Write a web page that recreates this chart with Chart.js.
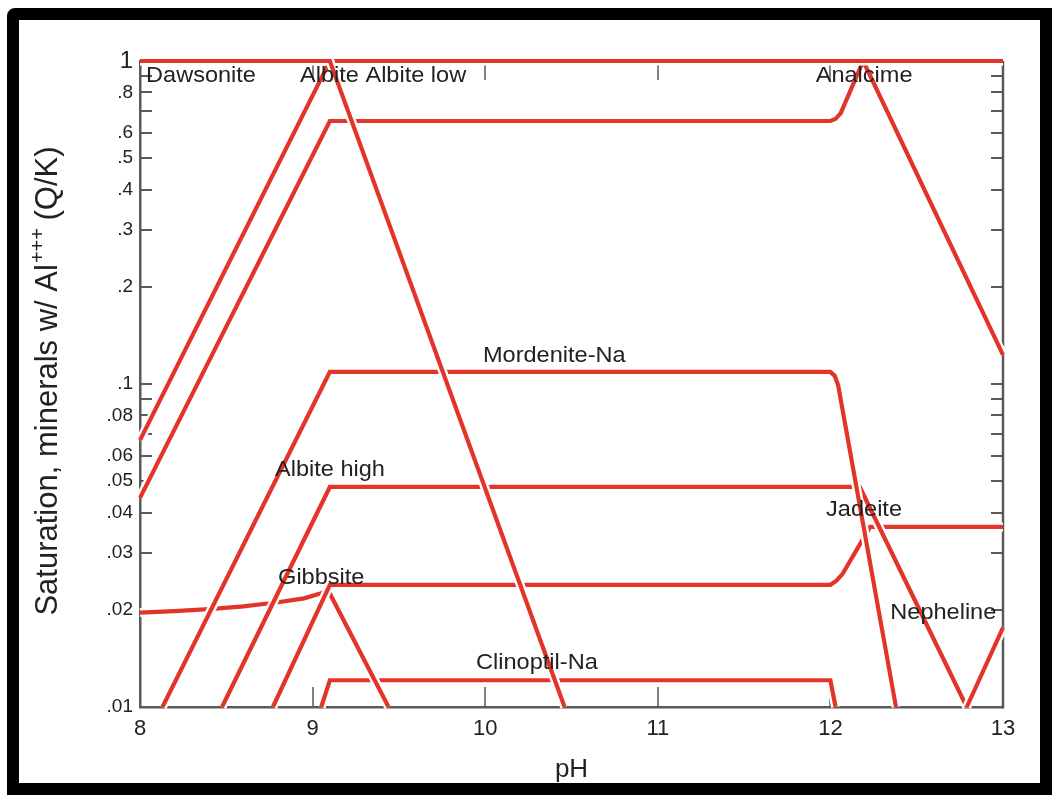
<!DOCTYPE html>
<html>
<head>
<meta charset="utf-8">
<script src="https://cdn.jsdelivr.net/npm/chart.js@4.4.1/dist/chart.umd.min.js"></script>
<style>
  html, body { margin: 0; padding: 0; background: #fff; }
  #wrap { position: relative; width: 1052px; height: 795px; overflow: hidden; }
  #c { position: absolute; left: 0; top: 0; }
  #frame {
    position: absolute; left: 7px; top: 8px; width: 1045px; height: 787px;
    box-sizing: border-box; border: 12px solid #000; border-radius: 8px 0 0 0;
    pointer-events: none;
  }
</style>
</head>
<body>
<div id="wrap">
  <canvas id="c" width="1052" height="795"></canvas>
  <div id="frame"></div>
</div>
<script>
// Axis ticks
const xTicks = [8, 9, 10, 11, 12, 13];
const yTicks = [0.01, 0.02, 0.03, 0.04, 0.05, 0.06, 0.07, 0.08, 0.09,
                0.1, 0.2, 0.3, 0.4, 0.5, 0.6, 0.7, 0.8, 0.9, 1];
const yTickLabels = ['.01', '.02', '.03', '.04', '.05', '.06', '', '.08', '',
                     '.1', '.2', '.3', '.4', '.5', '.6', '', '.8', '', '1'];

// Saturation curves (pH, Q/K)
const clinoptilPH = [9.05, 9.1, 12.0, 12.03];
const clinoptilQK = [0.01, 0.0121, 0.0121, 0.01];

const gibbsitePH = [8, 8.2, 8.4, 8.6, 8.8, 8.95, 9.04, 9.09, 9.44];
const gibbsiteQK = [0.0196, 0.0198, 0.0201, 0.0205, 0.0211, 0.0217, 0.0224, 0.0230, 0.01];

const analcimePH = [8, 9.1, 12.0, 12.03, 12.06, 12.19, 13];
const analcimeQK = [0.0444, 0.652, 0.652, 0.662, 0.69, 1, 0.123];

const albiteLowPH = [8, 9.1, 13];
const albiteLowQK = [0.067, 1, 1];

const jadeitePH = [8.77, 9.1, 12.0, 12.035, 12.07, 12.23, 13];
const jadeiteQK = [0.01, 0.0239, 0.0239, 0.0246, 0.0258, 0.0361, 0.0361];

const albiteHighPH = [8.475, 9.1, 12.17, 12.79];
const albiteHighQK = [0.01, 0.048, 0.048, 0.01];

const mordenitePH = [8.13, 9.1, 12.0, 12.025, 12.045, 12.38];
const mordeniteQK = [0.01, 0.109, 0.109, 0.106, 0.099, 0.01];

const nephelinePH = [12.79, 13];
const nephelineQK = [0.01, 0.0176];

const dawsonitePH = [8, 9.1, 10.46];
const dawsoniteQK = [1, 1, 0.01];

// Curve labels
const labelNames = ['Dawsonite', 'Albite Albite low', 'Analcime', 'Mordenite-Na',
                    'Albite high', 'Gibbsite', 'Jadeite', 'Nepheline', 'Clinoptil-Na'];
const labelPH = [8.035, 8.927, 11.915, 9.987, 8.782, 8.80, 11.975, 12.347, 9.947];
const labelQK = [0.899, 0.899, 0.899, 0.1219, 0.0543, 0.0251, 0.0408, 0.0196, 0.01372];

const RED = '#e3342a';
const AXIS = '#5a5a5a';
const INK = '#222';
const FONT = "'Liberation Sans', Arial, Helvetica, sans-serif";

// drawn bottom-most first
const curves = [
  [clinoptilPH, clinoptilQK],
  [gibbsitePH, gibbsiteQK],
  [analcimePH, analcimeQK],
  [albiteLowPH, albiteLowQK],
  [jadeitePH, jadeiteQK],
  [albiteHighPH, albiteHighQK],
  [mordenitePH, mordeniteQK],
  [nephelinePH, nephelineQK],
  [dawsonitePH, dawsoniteQK]
];

const datasets = [];
curves.forEach(([xs, ys], i) => {
  const pts = xs.map((x, k) => ({ x: x, y: ys[k] }));
  const base = 2 * (curves.length - i);
  // white halo underneath each red line
  datasets.push({ data: pts, borderColor: '#ffffff', borderWidth: 9, pointRadius: 0,
                  tension: 0, fill: false, order: base + 1, borderCapStyle: 'butt', clip: 5 });
  datasets.push({ data: pts, borderColor: RED, borderWidth: 4.2, pointRadius: 0,
                  tension: 0, fill: false, order: base, borderCapStyle: 'butt', clip: 5 });
});

const marks = {
  id: 'marks',
  beforeDatasetsDraw(chart) {
    const ctx = chart.ctx;
    const a = chart.chartArea;
    const xs = chart.scales.x, ys = chart.scales.y;
    ctx.save();
    ctx.strokeStyle = AXIS;
    ctx.lineWidth = 2.5;
    // right axis line
    ctx.beginPath();
    ctx.moveTo(a.right, a.top);
    ctx.lineTo(a.right, a.bottom + 1.25);
    ctx.stroke();
    ctx.lineWidth = 2;
    // inward ticks on left and right
    yTicks.forEach(v => {
      const py = Math.round(ys.getPixelForValue(v));
      ctx.beginPath();
      ctx.moveTo(a.left, py); ctx.lineTo(a.left + 12, py);
      ctx.moveTo(a.right, py); ctx.lineTo(a.right - 12, py);
      ctx.stroke();
    });
    // inward ticks on bottom and top
    ctx.lineWidth = 1.5;
    xTicks.slice(1, -1).forEach(v => {
      const px = Math.round(xs.getPixelForValue(v));
      ctx.beginPath();
      ctx.moveTo(px, a.bottom); ctx.lineTo(px, a.bottom - 20);
      ctx.moveTo(px, a.top); ctx.lineTo(px, a.top + 19);
      ctx.stroke();
    });
    ctx.restore();
  },
  afterDatasetsDraw(chart) {
    const ctx = chart.ctx;
    const a = chart.chartArea;
    const xs = chart.scales.x, ys = chart.scales.y;
    ctx.save();
    ctx.fillStyle = INK;
    ctx.textBaseline = 'middle';
    ctx.textAlign = 'left';
    ctx.font = '22px ' + FONT;
    labelNames.forEach((t, i) => {
      const px = xs.getPixelForValue(labelPH[i]);
      const py = ys.getPixelForValue(labelQK[i]);
      ctx.save();
      ctx.translate(px, py);
      ctx.scale(1.07, 1);
      ctx.fillText(t, 0, 0);
      ctx.restore();
    });

    // x axis title
    ctx.textAlign = 'center';
    ctx.font = '26px ' + FONT;
    ctx.fillText('pH', (a.left + a.right) / 2, 770);

    // y axis title with superscript
    const main1 = 'Saturation, minerals w/ Al';
    const sup = '+++';
    const main2 = ' (Q/K)';
    const fMain = '31px ' + FONT, fSup = '20px ' + FONT;
    ctx.font = fMain;
    const w1 = ctx.measureText(main1).width;
    const w3 = ctx.measureText(main2).width;
    ctx.font = fSup;
    const w2 = ctx.measureText(sup).width;
    const total = w1 + w2 + w3;
    ctx.translate(47, (a.top + a.bottom) / 2 - 3);
    ctx.rotate(-Math.PI / 2);
    ctx.textAlign = 'left';
    ctx.textBaseline = 'alphabetic';
    let x0 = -total / 2;
    const base = 10;
    ctx.font = fMain;
    ctx.fillText(main1, x0, base);
    ctx.font = fSup;
    ctx.fillText(sup, x0 + w1 + 1, base - 13);
    ctx.font = fMain;
    ctx.fillText(main2, x0 + w1 + w2, base);
    ctx.restore();
  }
};

new Chart(document.getElementById('c'), {
  type: 'line',
  data: { datasets: datasets },
  options: {
    responsive: false,
    animation: false,
    devicePixelRatio: 1,
    events: [],
    layout: { padding: { left: 0, top: 61, right: 49, bottom: 0 } },
    plugins: { legend: { display: false }, tooltip: { enabled: false }, title: { display: false } },
    scales: {
      x: {
        type: 'linear', min: 8, max: 13,
        afterBuildTicks: s => { s.ticks = xTicks.map(v => ({ value: v })); },
        afterFit: s => { s.height = 88; },
        grid: { display: false, drawTicks: false },
        border: { display: true, color: AXIS, width: 2.5 },
        ticks: {
          autoSkip: false, maxRotation: 0, padding: 9, color: INK,
          font: { family: FONT, size: 22 },
          callback: v => String(v)
        }
      },
      y: {
        type: 'logarithmic', min: 0.01, max: 1,
        afterBuildTicks: s => { s.ticks = yTicks.map(v => ({ value: v })); },
        afterFit: s => { s.width = 140; },
        grid: { display: false, drawTicks: false },
        border: { display: true, color: AXIS, width: 2.5 },
        ticks: {
          autoSkip: false, padding: 7, color: INK,
          font: c => ({ family: FONT, size: (c.tick && c.tick.value === 1) ? 24 : 19 }),
          callback: (v, i) => yTickLabels[i]
        }
      }
    }
  },
  plugins: [marks]
});
</script>
</body>
</html>
